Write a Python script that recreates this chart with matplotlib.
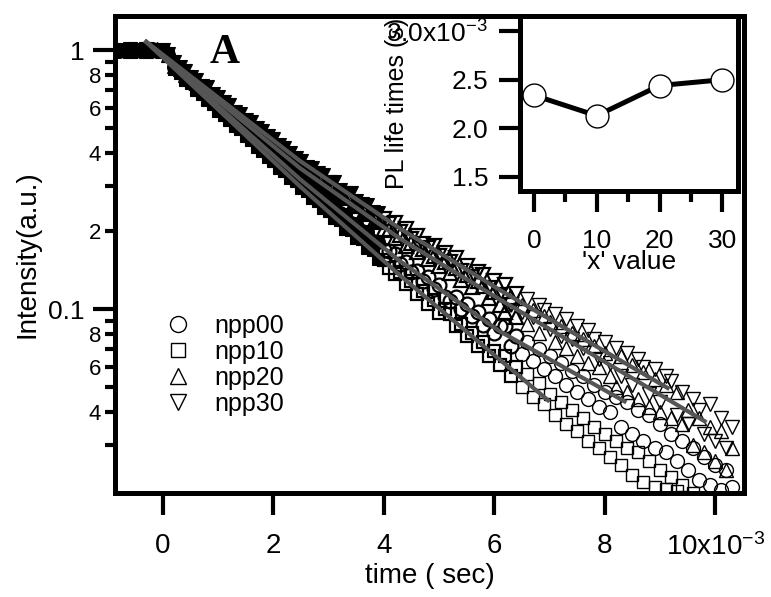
import numpy as np
import matplotlib.pyplot as plt
from matplotlib.ticker import FixedLocator, FixedFormatter, NullLocator

plt.rcParams['font.family'] = ['Liberation Sans', 'DejaVu Sans']
plt.rcParams['mathtext.default'] = 'regular'

# ---------------------------------------------------------------
# PL decay data: time in ms (axis shows x10^-3 s), normalised intensity
# ---------------------------------------------------------------
t_ms = np.round(np.arange(-0.8, 10.35, 0.1), 1)   # 112 samples, 0.1 ms apart

npp00 = [0.99, 1.00, 1.01, 0.99, 1.00, 1.00, 1.01, 0.99, 1.00, 0.96,
         0.86, 0.83, 0.79, 0.75, 0.73, 0.69, 0.665, 0.63, 0.61, 0.58,
         0.56, 0.53, 0.51, 0.49, 0.465, 0.45, 0.425, 0.41, 0.395, 0.372,
         0.362, 0.342, 0.333, 0.312, 0.305, 0.289, 0.283, 0.266, 0.26, 0.245,
         0.236, 0.232, 0.216, 0.214, 0.200, 0.198, 0.183, 0.182, 0.170, 0.168,
         0.163, 0.149, 0.152, 0.139, 0.141, 0.129, 0.133, 0.120, 0.124, 0.112,
         0.108, 0.112, 0.100, 0.105, 0.094, 0.098, 0.087, 0.092, 0.081, 0.086,
         0.086, 0.072, 0.079, 0.067, 0.075, 0.063, 0.070, 0.059, 0.066, 0.055,
         0.062, 0.051, 0.058, 0.048, 0.055, 0.045, 0.051, 0.042, 0.048, 0.040,
         0.046, 0.035, 0.044, 0.033, 0.041, 0.031, 0.039, 0.029, 0.036, 0.028,
         0.033, 0.026, 0.031, 0.024, 0.029, 0.022, 0.027, 0.021, 0.025, 0.020, 0.024, 0.0205]

npp10 = [1.00, 0.99, 1.00, 1.01, 0.99, 1.00, 1.01, 1.00, 0.99, 0.95,
         0.85, 0.82, 0.77, 0.745, 0.705, 0.68, 0.645, 0.62, 0.585, 0.565,
         0.54, 0.51, 0.495, 0.465, 0.45, 0.425, 0.41, 0.387, 0.375, 0.352,
         0.342, 0.321, 0.312, 0.293, 0.286, 0.268, 0.262, 0.245, 0.24, 0.225,
         0.221, 0.205, 0.202, 0.188, 0.186, 0.172, 0.169, 0.157, 0.155, 0.144,
         0.137, 0.139, 0.125, 0.128, 0.115, 0.118, 0.105, 0.109, 0.097, 0.100,
         0.096, 0.086, 0.088, 0.079, 0.081, 0.072, 0.075, 0.066, 0.069, 0.061,
         0.066, 0.055, 0.060, 0.050, 0.056, 0.046, 0.052, 0.043, 0.047, 0.039,
         0.044, 0.036, 0.041, 0.034, 0.038, 0.031, 0.035, 0.029, 0.033, 0.027,
         0.031, 0.025, 0.029, 0.023, 0.028, 0.0215, 0.026, 0.0205, 0.024, 0.0202,
         0.0225, 0.0198, 0.021, 0.0185, 0.0196, 0.017, 0.0182, 0.016, 0.0172, 0.015, 0.0165, 0.014]

npp20 = [1.00, 1.01, 0.99, 1.00, 1.01, 0.99, 1.00, 1.01, 0.99, 0.96,
         0.87, 0.85, 0.80, 0.78, 0.75, 0.71, 0.69, 0.67, 0.63, 0.61,
         0.59, 0.56, 0.545, 0.515, 0.50, 0.485, 0.455, 0.445, 0.42, 0.41,
         0.39, 0.38, 0.36, 0.35, 0.333, 0.328, 0.31, 0.305, 0.29, 0.285,
         0.271, 0.268, 0.251, 0.250, 0.235, 0.233, 0.219, 0.217, 0.204, 0.203,
         0.189, 0.193, 0.176, 0.181, 0.167, 0.171, 0.156, 0.161, 0.147, 0.152,
         0.138, 0.144, 0.130, 0.136, 0.122, 0.128, 0.123, 0.111, 0.117, 0.104,
         0.098, 0.112, 0.093, 0.104, 0.088, 0.099, 0.081, 0.094, 0.089, 0.075,
         0.086, 0.071, 0.081, 0.066, 0.077, 0.062, 0.072, 0.060, 0.068, 0.055,
         0.050, 0.066, 0.048, 0.061, 0.045, 0.057, 0.042, 0.054, 0.040, 0.051,
         0.038, 0.048, 0.036, 0.041, 0.030, 0.038, 0.028, 0.035, 0.026, 0.034, 0.024, 0.029]

npp30 = [1.00, 0.99, 1.01, 1.00, 0.99, 1.01, 1.00, 0.99, 1.00, 0.97,
         0.90, 0.86, 0.83, 0.79, 0.77, 0.73, 0.72, 0.68, 0.66, 0.63,
         0.615, 0.58, 0.57, 0.54, 0.53, 0.50, 0.49, 0.465, 0.455, 0.43,
         0.42, 0.40, 0.385, 0.375, 0.355, 0.35, 0.335, 0.33, 0.31, 0.31,
         0.29, 0.28, 0.28, 0.262, 0.255, 0.252, 0.238, 0.236, 0.224, 0.214,
         0.216, 0.198, 0.204, 0.186, 0.192, 0.178, 0.172, 0.176, 0.160, 0.165,
         0.152, 0.158, 0.141, 0.147, 0.133, 0.139, 0.136, 0.121, 0.128, 0.114,
         0.124, 0.104, 0.115, 0.098, 0.110, 0.093, 0.104, 0.099, 0.084, 0.096,
         0.079, 0.092, 0.077, 0.086, 0.071, 0.083, 0.077, 0.064, 0.075, 0.062,
         0.071, 0.055, 0.068, 0.051, 0.064, 0.060, 0.047, 0.059, 0.044, 0.055,
         0.053, 0.039, 0.048, 0.036, 0.045, 0.041, 0.033, 0.043, 0.031, 0.038, 0.029, 0.035]

# fitted curves (grey), read at a few knots
fit00_t = [-0.33, 2.48, 4.29, 6.09, 8.39]
fit00_i = [1.09, 0.318, 0.1535, 0.0824, 0.0437]
fit10_t = [-0.33, 2.48, 4.29, 6.09, 7.0]
fit10_i = [1.09, 0.2985, 0.1352, 0.0641, 0.0440]
fit20_t = [-0.33, 2.48, 4.29, 6.09, 9.84]
fit20_i = [1.09, 0.351, 0.1875, 0.1094, 0.0366]
fit30_t = [-0.33, 2.48, 4.29, 6.09, 9.17]
fit30_i = [1.09, 0.374, 0.205, 0.119, 0.0492]

# inset: PL lifetime vs x
x_value = [0, 10, 20, 30]
pl_life_ms = [2.34, 2.13, 2.44, 2.50]

# ---------------------------------------------------------------
fig = plt.figure(figsize=(7.71, 5.97), dpi=100)
ax = fig.add_axes([0.149, 0.174, 0.816, 0.799])

series = [("npp00", npp00, "o", 10.0), ("npp10", npp10, "s", 9.0),
          ("npp20", npp20, "^", 10.0), ("npp30", npp30, "v", 10.0)]
# the dense early part of the measured decays merges into a solid band
early = t_ms < 4.0
mid = (t_ms >= 4.0) & (t_ms < 6.5)
late = t_ms >= 6.5
for name, vals, mk, ms in series:
    v = np.asarray(vals)
    ax.plot(t_ms[early], v[early], ls="none", marker=mk, ms=ms, mfc="black",
            mec="black", mew=0.8)
    ax.plot(t_ms[mid], v[mid], ls="none", marker=mk, ms=ms, mfc="none",
            mec="black", mew=1.6)
    ax.plot(t_ms[late], v[late], ls="none", marker=mk, ms=ms, mfc="none",
            mec="black", mew=1.0, label=name)

for ft, fi in [(fit00_t, fit00_i), (fit10_t, fit10_i),
               (fit20_t, fit20_i), (fit30_t, fit30_i)]:
    ax.plot(ft, fi, color="#555555", lw=3, zorder=3, solid_capstyle="butt")

ax.set_yscale("log")
ax.set_ylim(0.0195, 1.355)
ax.set_xlim(-0.87, 10.52)

ax.yaxis.set_major_locator(FixedLocator([0.1, 1]))
ax.yaxis.set_major_formatter(FixedFormatter(["0.1", "1"]))
minor_locs = [0.03, 0.04, 0.05, 0.06, 0.07, 0.08, 0.09,
              0.2, 0.3, 0.4, 0.5, 0.6, 0.7, 0.8, 0.9]
minor_labs = ["", "4", "", "6", "", "8", "",
              "2", "", "4", "", "6", "", "8", ""]
ax.yaxis.set_minor_locator(FixedLocator(minor_locs))
ax.yaxis.set_minor_formatter(FixedFormatter(minor_labs))

ax.set_xticks([0, 2, 4, 6, 8, 10])
ax.set_xticklabels(["0", "2", "4", "6", "8", "10x10$^{-3}$"])
ax.xaxis.set_minor_locator(NullLocator())

ax.tick_params(axis="y", which="major", direction="out", length=16, width=3,
               labelsize=19, pad=6)
ax.tick_params(axis="y", which="minor", direction="out", length=7, width=3,
               labelsize=16, pad=3)
ax.tick_params(axis="x", which="major", direction="out", length=16, width=3,
               labelsize=20, pad=13)
for s in ax.spines.values():
    s.set_linewidth(3.6)

ax.set_xlabel("time ( sec)", fontsize=20, labelpad=1)
ax.set_ylabel("Intensity(a.u.)", fontsize=20)
ax.yaxis.set_label_coords(-0.119, 0.5)

ax.legend(loc="upper left", bbox_to_anchor=(0.081, 0.375), frameon=False,
          fontsize=18, handlelength=1, handletextpad=0.95, labelspacing=0.08,
          borderpad=0, borderaxespad=0, markerscale=1.15)

ax.text(0.175, 0.922, "A", transform=ax.transAxes, fontsize=30,
        fontweight="bold", family="Liberation Serif", ha="center", va="center")

# ---------------------------------------------------------------
# inset
# ---------------------------------------------------------------
axin = fig.add_axes([520 / 771, 1 - 191 / 597, 218 / 771, 175 / 597])
axin.plot(x_value, pl_life_ms, color="black", lw=3.6, marker="o", ms=16.5,
          mfc="white", mec="black", mew=1, clip_on=False)
axin.set_xlim(-2.23, 32.5)
axin.set_ylim(1.356, 3.155)
axin.set_yticks([1.5, 2.0, 2.5, 3.0])
axin.set_yticklabels(["1.5", "2.0", "2.5", "3.0x10$^{-3}$"])
axin.set_xticks([0, 10, 20, 30])
axin.xaxis.set_minor_locator(FixedLocator([5, 15, 25]))
axin.tick_params(axis="y", which="major", direction="out", length=15, width=3,
                 labelsize=19, pad=8)
axin.tick_params(axis="x", which="major", direction="out", length=15, width=3,
                 labelsize=19, pad=12)
axin.tick_params(axis="x", which="minor", direction="out", length=8, width=3)
for s in axin.spines.values():
    s.set_linewidth(3.6)
axin.set_xlabel("'x' value", fontsize=19, labelpad=-2)
axin.set_ylabel("PL life times (s)", fontsize=18)
axin.yaxis.set_label_coords(-0.51, 0.5)

fig.savefig("out.png", dpi=100)
